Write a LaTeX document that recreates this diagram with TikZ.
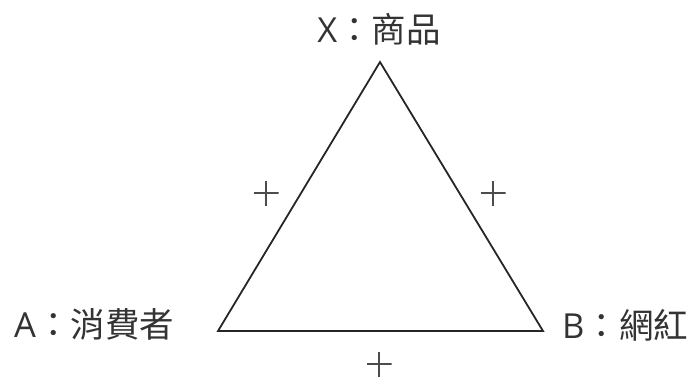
\documentclass[tikz,border=0pt]{standalone}
\usepackage{fontspec}
\setmainfont{Open Sans}
\newfontfamily\cjk{Noto Sans CJK TC}
\tikzset{
  lbl/.style={inner sep=0pt, font=\fontsize{34.5}{38}\selectfont, text=black!80},
  edge/.style={line width=1.8pt, draw=black!85, line join=miter},
  plusmark/.style={minimum size=25pt, inner sep=0pt, path picture={
      \draw[line width=1.1pt, black!70] (path picture bounding box.west) -- (path picture bounding box.east);
      \draw[line width=1.1pt, black!70] (path picture bounding box.north) -- (path picture bounding box.south);}}
}
\begin{document}
\begin{tikzpicture}[x=1pt,y=-1pt]
\useasboundingbox (0,0) rectangle (689,376);
\coordinate (X) at (380,62);
\coordinate (A) at (218,331);
\coordinate (B) at (543,331);
\draw[edge] (X) -- (A) -- (B) -- cycle;
\node[lbl] (lx) at (379,29) {X{\cjk ：商品}};
\node[lbl, anchor=west] (la) at (14,324) {A{\cjk ：消費者}};
\node[lbl, anchor=west] (lb) at (562,325) {B{\cjk ：網紅}};
\node[plusmark] (p1) at (266,193) {};
\node[plusmark] (p2) at (493,193) {};
\node[plusmark] (p3) at (379,364) {};
\end{tikzpicture}
\end{document}
